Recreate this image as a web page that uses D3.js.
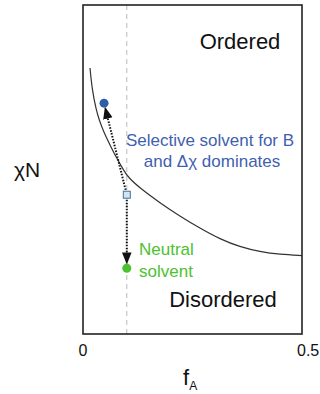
<!DOCTYPE html>
<html>
<head>
<meta charset="utf-8">
<script src="https://cdn.jsdelivr.net/npm/d3@7"></script>
<style>
  body { margin: 0; background: #fff; }
  text { font-family: "Liberation Sans", Arial, sans-serif; }
</style>
</head>
<body>
<div id="chart"></div>
<script>
// phase boundary (f_A, chiN)
const boundaryF = [0.016, 0.021, 0.030, 0.037, 0.048, 0.064, 0.078, 0.094, 0.103, 0.130, 0.176, 0.221, 0.267, 0.313, 0.358, 0.404, 0.45, 0.5];
const boundaryChiN = [48.5, 44.5, 40.9, 39.0, 36.7, 34.1, 31.9, 29.7, 28.6, 26.6, 23.9, 21.5, 19.3, 17.3, 15.9, 15.0, 14.5, 14.3];
const xTicks = [0, 0.5];
const xTickLabels = ['0', '0.5'];
const guideF = 0.1;
const selectivePt = [0.048, 42.1];
const startPt = [0.1, 25.4];
const neutralPt = [0.1, 12.0];

const width = 320, height = 394;
const svg = d3.select('#chart').append('svg')
  .attr('width', width)
  .attr('height', height);

const x = d3.scaleLinear().domain([0, 0.5]).range([83, 302]);
const y = d3.scaleLinear().domain([0, 60]).range([334, 5]);

const defs = svg.append('defs');
defs.append('marker')
  .attr('id', 'arr')
  .attr('viewBox', '0 0 10 10')
  .attr('refX', 9).attr('refY', 5)
  .attr('markerWidth', 6).attr('markerHeight', 6)
  .attr('orient', 'auto')
  .append('path')
  .attr('d', 'M0,1 L10,5 L0,9 Z')
  .attr('fill', '#111');

// dashed guide at f_A = 0.1
svg.append('line')
  .attr('x1', x(guideF)).attr('x2', x(guideF))
  .attr('y1', y(60)).attr('y2', y(0))
  .attr('stroke', '#bbb')
  .attr('stroke-dasharray', '5,4')
  .attr('stroke-width', 1);

// boundary curve
const pts = boundaryF.map((f, i) => [f, boundaryChiN[i]]);
svg.append('path')
  .datum(pts)
  .attr('d', d3.line().x(d => x(d[0])).y(d => y(d[1])).curve(d3.curveBasis))
  .attr('fill', 'none')
  .attr('stroke', '#333')
  .attr('stroke-width', 1.2);

// frame
svg.append('rect')
  .attr('x', x(0)).attr('y', y(60))
  .attr('width', x(0.5) - x(0)).attr('height', y(0) - y(60))
  .attr('fill', 'none')
  .attr('stroke', '#222')
  .attr('stroke-width', 1.6);

// arrows
const shorten = (a, b, d) => {
  const dx = b[0] - a[0], dy = b[1] - a[1];
  const l = Math.hypot(dx, dy);
  return [b[0] - dx / l * d, b[1] - dy / l * d];
};
const sP = [x(startPt[0]), y(startPt[1])];
const bP = [x(selectivePt[0]), y(selectivePt[1])];
const gP = [x(neutralPt[0]), y(neutralPt[1])];
[[sP, bP], [sP, gP]].forEach(([a, b]) => {
  const s = shorten(b, a, 5);
  const e = shorten(a, b, 5);
  svg.append('line')
    .attr('x1', s[0]).attr('y1', s[1])
    .attr('x2', e[0]).attr('y2', e[1])
    .attr('stroke', '#111')
    .attr('stroke-width', 2)
    .attr('stroke-dasharray', '1.5,1.5')
    .attr('marker-end', 'url(#arr)');
});

// points
svg.append('circle').attr('cx', bP[0]).attr('cy', bP[1]).attr('r', 4.5).attr('fill', '#2e5ea8');
svg.append('circle').attr('cx', gP[0]).attr('cy', gP[1]).attr('r', 4.5).attr('fill', '#4cc230');
svg.append('rect')
  .attr('x', sP[0] - 3.5).attr('y', sP[1] - 3.5)
  .attr('width', 7).attr('height', 7)
  .attr('fill', '#cfe4f5')
  .attr('stroke', '#4a6d8c')
  .attr('stroke-width', 1);

// region labels
svg.append('text').attr('x', 240).attr('y', 49).attr('text-anchor', 'middle')
  .attr('font-size', 22).attr('fill', '#111').text('Ordered');
svg.append('text').attr('x', 223).attr('y', 307).attr('text-anchor', 'middle')
  .attr('font-size', 22).attr('fill', '#111').text('Disordered');

svg.append('text').attr('x', 210).attr('y', 146).attr('text-anchor', 'middle')
  .attr('font-size', 17).attr('fill', '#3f5fb0').text('Selective solvent for B');
svg.append('text').attr('x', 212).attr('y', 167).attr('text-anchor', 'middle')
  .attr('font-size', 17).attr('fill', '#3f5fb0').text('and Δχ dominates');

svg.append('text').attr('x', 139).attr('y', 255)
  .attr('font-size', 17).attr('fill', '#4cc230').text('Neutral');
svg.append('text').attr('x', 139).attr('y', 277)
  .attr('font-size', 17).attr('fill', '#4cc230').text('solvent');

// x tick labels
svg.selectAll('.xt').data(xTicks).enter().append('text')
  .attr('class', 'xt')
  .attr('x', d => x(d)).attr('y', 356)
  .attr('text-anchor', (d, i) => i === 0 ? 'middle' : 'start')
  .attr('dx', (d, i) => i === 0 ? 0 : -5)
  .attr('font-size', 16).attr('fill', '#111')
  .text((d, i) => xTickLabels[i]);

// axis titles
const fx = svg.append('text').attr('x', 183).attr('y', 385).attr('font-size', 22).attr('fill', '#111');
fx.append('tspan').text('f');
fx.append('tspan').attr('font-size', 12).attr('dy', 5).text('A');

svg.append('text').attr('x', 14).attr('y', 177).attr('font-size', 21).attr('fill', '#111').text('χN');
</script>
</body>
</html>
